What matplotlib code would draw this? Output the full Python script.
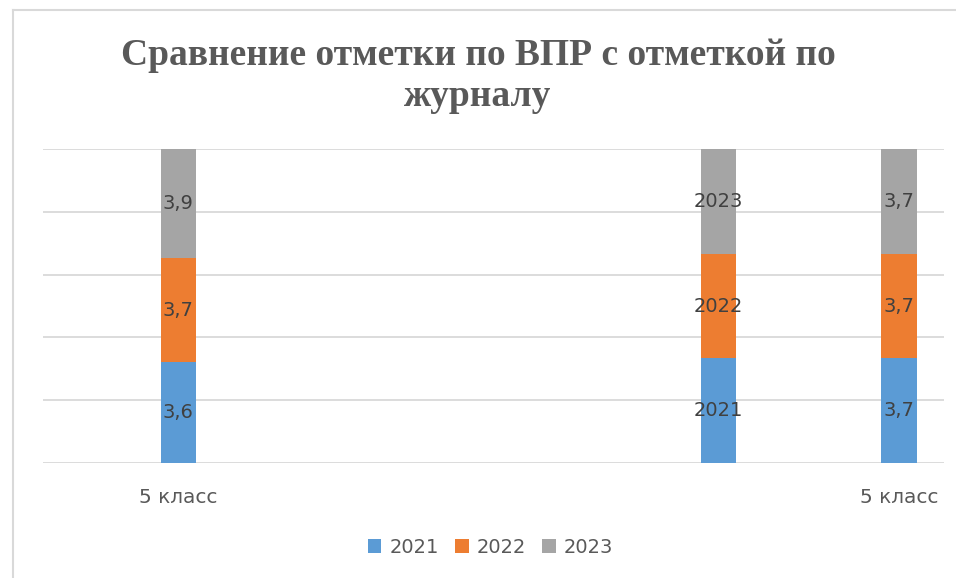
import numpy as np
import matplotlib.pyplot as plt
from matplotlib.lines import Line2D

# category slots on the x axis (10 slots, only three hold bars)
n_slots = 10
bar_slots = [1, 7, 9]
tick_slots = [1, 9]
tick_labels = ["5 класс", "5 класс"]

series = ["2021", "2022", "2023"]
v2021 = [3.6, 2021, 3.7]
v2022 = [3.7, 2022, 3.7]
v2023 = [3.9, 2023, 3.7]
colors = ["#5B9BD5", "#ED7D31", "#A5A5A5"]

title = "Сравнение отметки по ВПР с отметкой по\nжурналу"


def fmt(v):
    # запятая как десятичный разделитель
    if float(v).is_integer():
        return str(int(v))
    return f"{v:.1f}".replace(".", ",")


fig = plt.figure(figsize=(9.56, 5.78), dpi=100)
ax = fig.add_axes([0.045, 0.199, 0.9425, 0.543])

data = np.array([v2021, v2022, v2023], dtype=float)
share = data / data.sum(axis=0) * 100
x = np.array(bar_slots) + 0.5
bottom = np.zeros(len(bar_slots))
for i, name in enumerate(series):
    ax.bar(x, share[i], width=0.39, bottom=bottom, color=colors[i],
           label=name, zorder=3)
    for xi, b, h, v in zip(x, bottom, share[i], data[i]):
        ax.text(xi, b + h / 2, fmt(v), ha="center", va="center",
                fontsize=14, color="#404040", zorder=4)
    bottom += share[i]

ax.set_xlim(0, n_slots)
ax.set_ylim(0, 100)
ax.set_yticks(np.arange(0, 101, 20))
ax.set_yticklabels([])
ax.tick_params(axis="y", length=0)
ax.set_xticks([s + 0.5 for s in tick_slots])
ax.set_xticklabels(tick_labels, fontsize=14.5, color="#595959")
ax.tick_params(axis="x", length=0, pad=18)
ax.grid(axis="y", color="#D9D9D9", linewidth=1.3, zorder=0)
for sp in ax.spines.values():
    sp.set_visible(False)

fig.suptitle(title, x=0.5, y=0.935, fontsize=27, fontweight="bold",
             family="Liberation Serif", color="#595959", linespacing=1.25)

fig.legend(loc="center", bbox_to_anchor=(0.513, 0.053), ncol=3,
           frameon=False, fontsize=14, handlelength=0.7, handleheight=0.7,
           handletextpad=0.4, columnspacing=0.85, labelcolor="#595959")

# рамка диаграммы
fig.add_artist(Line2D([13 / 956, 13 / 956], [0, 1 - 10 / 578],
                      transform=fig.transFigure, color="#D9D9D9", lw=1.5))
fig.add_artist(Line2D([13 / 956, 1], [1 - 10 / 578, 1 - 10 / 578],
                      transform=fig.transFigure, color="#D9D9D9", lw=1.5))

fig.savefig("out.png", dpi=100)
